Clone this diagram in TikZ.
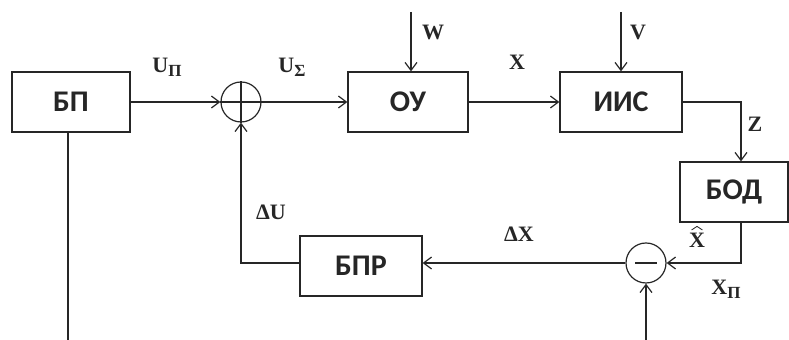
\documentclass[tikz,border=0pt]{standalone}
\usepackage{fontspec}
\setmainfont{Liberation Serif}
\newfontfamily\boxfont{Carlito}
\usetikzlibrary{arrows.meta,positioning}
\tikzset{
  blok/.style={draw,line width=0.6pt,minimum height=30pt,inner sep=0pt,
               font=\boxfont\bfseries\fontsize{15}{17}\selectfont},
  sumc/.style={draw,circle,line width=0.6pt,minimum size=20pt,inner sep=0pt},
  arr/.style={-{Straight Barb[length=4pt,width=6pt]},line width=0.6pt},
  lnk/.style={line width=0.6pt},
  lbl/.style={font=\bfseries\fontsize{11}{12}\selectfont,inner sep=0pt},
}
\newcommand{\lsub}[2]{#1\raisebox{-0.4ex}{\fontsize{8.5}{9}\selectfont #2}}

\begin{document}
\begin{tikzpicture}[x=0.5pt,y=-0.5pt,black!85]
\useasboundingbox (0,0) rectangle (789,340);

%% ---------- forward path ----------
\node[blok,minimum width=59pt] (bp)  at (71,102)  {БП};
\node[sumc] (sum) at (241,102) {};
\node[blok,minimum width=60pt] (ou)  at (408,102) {ОУ};
\node[blok,minimum width=61pt] (iis) at (621,102) {ИИС};
\node[blok,minimum width=54pt] (bod) at (734,192) {БОД};

%% ---------- feedback path ----------
\node[sumc] (minus) at (646,263) {};
\node[blok,minimum width=61pt] (bpr) at (361,266) {БПР};

%% free ends
\coordinate (win) at (411,12);
\coordinate (vin) at (621,12);
\coordinate (zdn) at (741,0);
\coordinate (xpin) at (646,340);
\coordinate (bpend) at (0,340);

%% signs inside the circles
\draw[lnk] (sum.north) -- (sum.south);
\draw[lnk] (sum.west) -- (sum.east);
\draw[lnk] ([xshift=-5.5pt]minus.center) -- ([xshift=5.5pt]minus.center);

%% main flow arrows
\draw[arr] (bp.east) -- (sum.west);
\draw[arr] (sum.east) -- (ou.west);
\draw[arr] (ou.east) -- (iis.west);
\draw[arr] (win) -- (win |- ou.north);
\draw[arr] (vin) -- (vin |- iis.north);
\draw[arr] (iis.east) -| (zdn |- bod.north);
\draw[arr] (zdn |- bod.south) |- (minus.east);
\draw[arr] (xpin) -- (minus.south);
\draw[arr] (minus.west) -- (minus.west -| bpr.east);
\draw[arr] (bpr.west |- minus.west) -| (sum.south);
\draw[lnk] ([xshift=-1.5pt]bp.south) -- ([xshift=-1.5pt]bp.south |- bpend);

%% signal labels
\node[lbl] (lup) at (167,67)  {\lsub{U}{П}};
\node[lbl] (lus) at (292,67)  {\lsub{U}{Σ}};
\node[lbl] (lw)  at (433,32)  {W};
\node[lbl] (lx)  at (517,62)  {X};
\node[lbl] (lv)  at (638,32)  {V};
\node[lbl] (lz)  at (755,124) {Z};
\node[lbl] (lxh) at (697,240) {X};
\draw[line width=0.4pt] ([xshift=-2.7pt,yshift=1.2pt]lxh.north)
  -- ([yshift=3pt]lxh.north) -- ([xshift=2.7pt,yshift=1.2pt]lxh.north);
\node[lbl] (ldu) at (271,212) {ΔU};
\node[lbl] (ldx) at (519,234) {ΔX};
\node[lbl] (lxp) at (726,289) {\lsub{X}{П}};
\end{tikzpicture}
\end{document}
